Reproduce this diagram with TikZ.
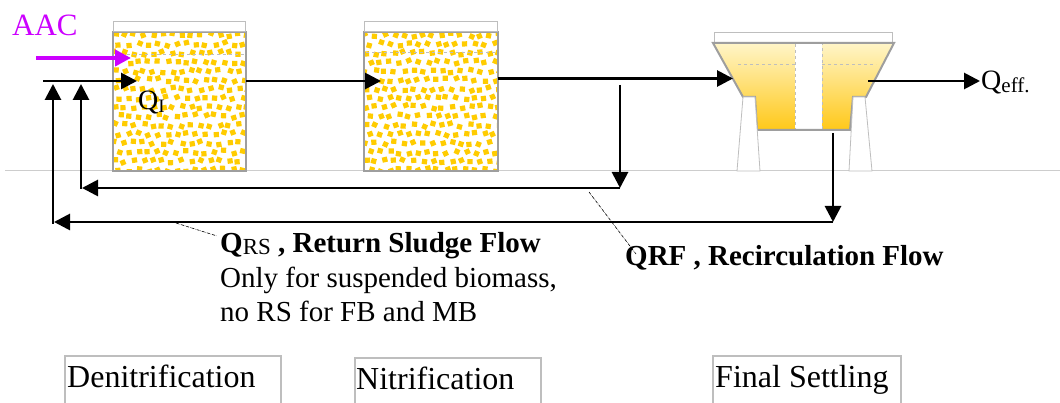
\documentclass[tikz,border=0pt]{standalone}
\usepackage{fontspec}
\setmainfont{Liberation Serif}
\usetikzlibrary{arrows.meta}
\definecolor{dotyellow}{RGB}{255,204,0}
\definecolor{aacviolet}{RGB}{204,0,255}
\definecolor{tankgray}{RGB}{158,158,158}
\definecolor{lidgray}{RGB}{190,190,190}
\definecolor{groundgray}{RGB}{205,205,205}
\definecolor{sludgetop}{RGB}{255,245,200}
\definecolor{sludgebot}{RGB}{255,200,25}

\tikzset{
  flow/.style={line width=2.8pt, -{Triangle[length=16pt,width=16pt]}},
  callout/.style={densely dash dot, line width=0.6pt},
  txt/.style={inner sep=0pt, anchor=base west, font=\fontsize{29}{34}\selectfont},
  stagebox/.style={draw=lidgray, line width=1.2pt},
  lid/.style={draw=lidgray, fill=white, line width=1pt},
  level/.style={draw=lidgray, dashed, line width=0.6pt},
}

% yellow carrier dots of a tank, upper left corner #1,#2, size 133x139
\newcommand{\biofill}[2]{%
  \begin{scope}
    \clip (#1,#2) rectangle ++(133,139);
    \foreach \i in {0,...,14}
      \foreach \j in {0,...,15}{
        \pgfmathsetmacro\px{#1+2+\i*9.5+mod(\j,2)*4.7+rand*1.8}
        \pgfmathsetmacro\py{#2+3+\j*9+rand*1.8}
        \pgfmathsetmacro\ang{rand*25}
        \fill[dotyellow, rotate around={\ang:(\px,\py)}] (\px-2.6,\py-2.6) rectangle ++(5.2,5.2);
      }
  \end{scope}}

\begin{document}
\begin{tikzpicture}[x=1pt,y=-1pt]
  \pgfmathsetseed{17}
  \useasboundingbox (0,0) rectangle (1060,403);

  % ground
  \draw[groundgray, line width=1pt] (5,171) -- (1060,171);

  % denitrification tank
  \fill[white] (113,32) rectangle (246,171);
  \biofill{113}{32}
  \draw[level] (115,54) -- (245,54);
  \draw[tankgray, line width=2pt] (113,32) rectangle (246,171);
  \draw[lid] (113,22) rectangle (245,32);

  % nitrification tank
  \fill[white] (364,32) rectangle (498,171);
  \biofill{364}{32}
  \draw[level] (366,52) -- (497,52);
  \draw[tankgray, line width=2pt] (364,32) rectangle (498,171);
  \draw[lid] (364,22) rectangle (497,32);

  % final settler
  \draw[lid] (714,33) rectangle (892,43);
  \shade[top color=sludgetop, bottom color=sludgebot]
    (713,43) -- (894,43) -- (866,97) -- (853,97) -- (850,130) -- (757,130) -- (755,97) -- (743,97) -- cycle;
  \fill[white] (795,44) rectangle (822,130);
  \draw[level] (738,64) -- (795,64) (822,64) -- (876,64);
  \draw[lidgray, dashed, line width=0.8pt] (795,44) -- (795,130) -- (822,130) -- (822,44);
  \draw[tankgray, line width=2pt]
    (713,43) -- (894,43) -- (866,97) -- (853,97) -- (850,130) -- (757,130) -- (755,97) -- (743,97) -- cycle;
  \draw[lidgray, fill=white, line width=0.8pt] (743,97) -- (755,97) -- (760,171) -- (737,171) -- cycle;
  \draw[lidgray, fill=white, line width=0.8pt] (853,97) -- (865,97) -- (872,171) -- (849,171) -- cycle;

  % junctions
  \coordinate (aacS) at (36,58);
  \coordinate (aacE) at (131,58);
  \coordinate (inS) at (43,81);
  \coordinate (inE) at (137,81);
  \coordinate (t1out) at (246,81);
  \coordinate (t2in) at (381,81);
  \coordinate (t2out) at (498,78.5);
  \coordinate (fsin) at (733,78.5);
  \coordinate (fsout) at (868,81);
  \coordinate (effE) at (980,81);
  \coordinate (rfS) at (620,85);
  \coordinate (rfB) at (620,188);
  \coordinate (rfE) at (82,188);
  \coordinate (rfT) at (81,189);
  \coordinate (rfU) at (81,84);
  \coordinate (rsS) at (833,133);
  \coordinate (rsB) at (833,222);
  \coordinate (rsE) at (54,222);
  \coordinate (rsT) at (53,224);
  \coordinate (rsU) at (53,84);

  % flows
  \draw[flow, aacviolet, line width=4.5pt] (aacS) -- (aacE);
  \draw[flow] (inS) -- (inE);
  \draw[flow] (t1out) -- (t2in);
  \draw[flow] (t2out) -- (fsin);
  \draw[flow] (fsout) -- (effE);
  \draw[flow] (rfS) -- (rfB);
  \draw[flow] (rfB) -- (rfE);
  \draw[flow] (rfT) -- (rfU);
  \draw[flow] (rsS) -- (rsB);
  \draw[flow] (rsB) -- (rsE);
  \draw[flow] (rsT) -- (rsU);

  % labels
  \node[txt, aacviolet, font=\fontsize{31}{31}\selectfont] (aac) at (12,36) {AAC};
  \node[txt, font=\fontsize{28}{28}\selectfont] (qi) at (138,110) {Q\raisebox{-3pt}{\fontsize{19}{19}\selectfont I}};
  \node[txt, font=\fontsize{28}{28}\selectfont] (qeff) at (981,90) {Q\raisebox{-3pt}{\fontsize{21}{21}\selectfont eff.}};

  \node[txt, font=\fontsize{29}{34}\selectfont\bfseries] (qrs) at (220,253)
    {Q\raisebox{-2pt}{\fontsize{23}{23}\selectfont\mdseries RS} , Return Sludge Flow};
  \node[txt] (rsnoteA) at (220,288) {Only for suspended biomass,};
  \node[txt] (rsnoteB) at (220,322) {no RS for FB and MB};
  \node[txt, font=\fontsize{29}{34}\selectfont\bfseries] (qrf) at (625,266) {QRF , Recirculation Flow};

  \coordinate (rsC) at (176,223);
  \coordinate (rsD) at (217,236);
  \coordinate (rfC) at (589,192);
  \coordinate (rfD) at (636,254);
  \draw[callout] (rsC) -- (rsD);
  \draw[callout] (rfC) -- (rfD);

  % stage names
  \node[txt, font=\fontsize{32}{32}\selectfont] (denit) at (67,387) {Denitrification};
  \node[txt, font=\fontsize{32}{32}\selectfont] (nit) at (356,389) {Nitrification};
  \node[txt, font=\fontsize{32}{32}\selectfont] (fset) at (715,387) {Final Settling};
  \draw[stagebox] (65,403) -- (65,356) -- (281,356) -- (281,403);
  \draw[stagebox] (355,403) -- (355,358) -- (541,358) -- (541,403);
  \draw[stagebox] (713,403) -- (713,356) -- (901,356) -- (901,403);
\end{tikzpicture}
\end{document}
